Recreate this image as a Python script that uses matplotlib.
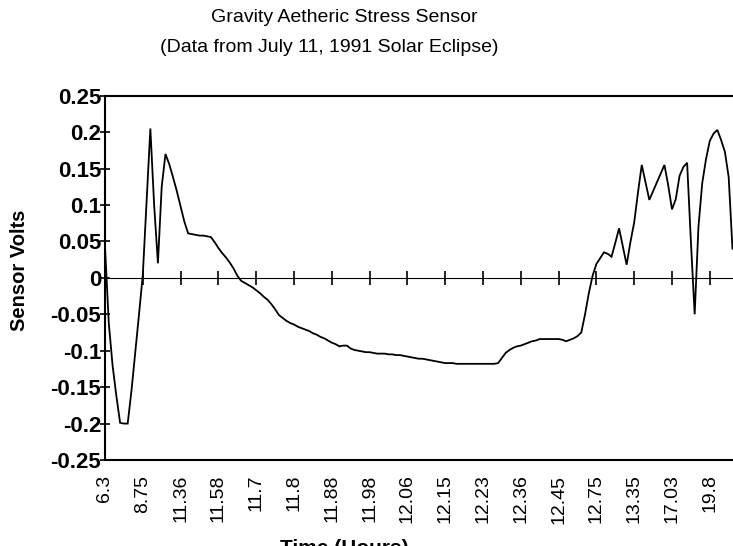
import numpy as np
import matplotlib
matplotlib.use("Agg")
import matplotlib.pyplot as plt

# ---- data -------------------------------------------------------------
time_labels = ['6.3', '8.75', '11.36', '11.58', '11.7', '11.8', '11.88', '11.98',
               '12.06', '12.15', '12.23', '12.36', '12.45', '12.75', '13.35',
               '17.03', '19.8']
label_every = 10  # one time label every 10 readings

sensor_volts = [
    0.043, -0.062, -0.12, -0.162, -0.199, -0.2, -0.2, -0.155, -0.103, -0.05,
    0.004, 0.105, 0.205, 0.1, 0.02, 0.125, 0.17, 0.156, 0.138, 0.119,
    0.098, 0.077, 0.061, 0.06, 0.059, 0.058, 0.058, 0.057, 0.056, 0.049,
    0.041, 0.034, 0.028, 0.021, 0.013, 0.003, -0.004, -0.007, -0.01, -0.013,
    -0.017, -0.021, -0.026, -0.03, -0.036, -0.043, -0.051, -0.055, -0.059, -0.062,
    -0.064, -0.067, -0.069, -0.071, -0.073, -0.076, -0.078, -0.081, -0.083, -0.086,
    -0.089, -0.091, -0.094, -0.093, -0.093, -0.097, -0.099, -0.1, -0.101, -0.102,
    -0.102, -0.103, -0.104, -0.104, -0.104, -0.105, -0.105, -0.106, -0.106, -0.107,
    -0.108, -0.109, -0.11, -0.111, -0.111, -0.112, -0.113, -0.114, -0.115, -0.116,
    -0.117, -0.117, -0.117, -0.118, -0.118, -0.118, -0.118, -0.118, -0.118, -0.118,
    -0.118, -0.118, -0.118, -0.118, -0.117, -0.11, -0.103, -0.099, -0.096, -0.094,
    -0.093, -0.091, -0.089, -0.087, -0.086, -0.084, -0.084, -0.084, -0.084, -0.084,
    -0.084, -0.085, -0.087, -0.085, -0.083, -0.08, -0.075, -0.05, -0.021, 0.003,
    0.019, 0.027, 0.035, 0.033, 0.029, 0.048, 0.068, 0.043, 0.018, 0.049,
    0.076, 0.117, 0.155, 0.131, 0.107, 0.119, 0.131, 0.143, 0.155, 0.127,
    0.094, 0.108, 0.14, 0.152, 0.158, 0.05, -0.05, 0.07, 0.13, 0.163,
    0.188, 0.198, 0.203, 0.189, 0.173, 0.138, 0.04,
]

y_ticks = [0.25, 0.2, 0.15, 0.1, 0.05, 0, -0.05, -0.1, -0.15, -0.2, -0.25]
y_tick_labels = ['0.25', '0.2', '0.15', '0.1', '0.05', '0', '-0.05', '-0.1',
                 '-0.15', '-0.2', '-0.25']

title1 = "Gravity Aetheric Stress Sensor"
title2 = "(Data from July 11, 1991 Solar Eclipse)"

# ---- figure -----------------------------------------------------------
plt.rcParams['font.family'] = ['Liberation Sans', 'DejaVu Sans']
W, H = 733, 546
fig = plt.figure(figsize=(W / 100, H / 100), dpi=100)

left_px, right_px, top_px, bottom_px = 105, 733, 95.7, 460
ax = fig.add_axes([left_px / W, (H - bottom_px) / H,
                   (right_px - left_px) / W, (bottom_px - top_px) / H])

x = np.arange(len(sensor_volts))
ax.plot(x, sensor_volts, color='black', lw=1.3, solid_joinstyle='miter')

ax.set_ylim(-0.25, 0.25)
ax.set_xlim(0, 166.14)

for s in ['left', 'top', 'bottom']:
    ax.spines[s].set_linewidth(1.5)
    ax.spines[s].set_color('black')
ax.spines['right'].set_visible(False)

ax.set_yticks(y_ticks)
ax.set_yticklabels(y_tick_labels, fontsize=16, fontweight='bold')
ax.tick_params(axis='y', direction='inout', length=7.5, width=1.2, pad=-1)

tick_pos = np.arange(len(time_labels)) * label_every
ax.set_xticks(tick_pos)
ax.set_xticklabels(time_labels, rotation=90, fontsize=14)
ax.tick_params(axis='x', length=0, pad=10.5)

# zero line with category tick marks
sec = ax.secondary_xaxis(0.5)
sec.set_xticks(tick_pos[1:])
sec.tick_params(axis='x', direction='inout', length=9.5, width=1.2,
                labelbottom=False, labeltop=False)
sec.spines['bottom'].set_linewidth(1.6)
sec.set_xticklabels([])

# titles and axis labels
fig.text(344 / W, 1 - 18 / H, title1, ha='center', va='center', fontsize=14)
fig.text(329 / W, 1 - 47 / H, title2, ha='center', va='center', fontsize=14)
fig.text(20 / W, 1 - 270 / H, 'Sensor Volts', rotation=90, ha='center',
         va='center', fontsize=14.5, fontweight='bold')
fig.text(280 / W, 1 - 539 / H, 'Time (Hours)', ha='left', va='top',
         fontsize=15, fontweight='bold')

fig.savefig('out.png', dpi=100)
